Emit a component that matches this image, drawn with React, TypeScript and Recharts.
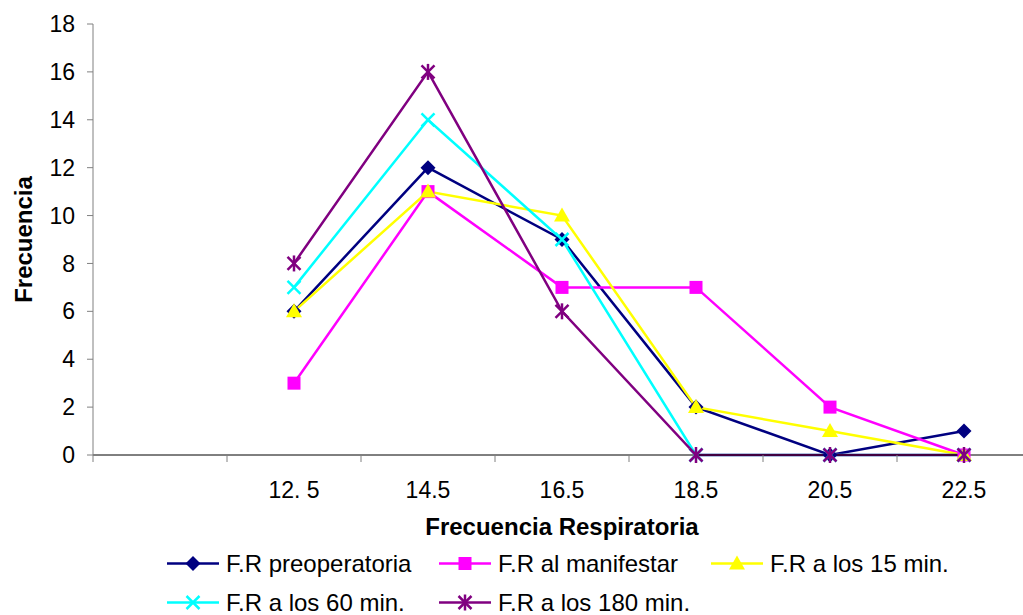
import { LineChart, Line, XAxis, YAxis } from 'recharts';

const categories = ['', '12. 5', '14.5', '16.5', '18.5', '20.5', '22.5'];
const preoperatoria = [null, 6, 12, 9, 2, 0, 1];
const alManifestar = [null, 3, 11, 7, 7, 2, 0];
const a15min = [null, 6, 11, 10, 2, 1, 0];
const a60min = [null, 7, 14, 9, 0, 0, 0];
const a180min = [null, 8, 16, 6, 0, 0, 0];
const yTicks = [0, 2, 4, 6, 8, 10, 12, 14, 16, 18];

type Shape = 'diamond' | 'square' | 'triangle' | 'x' | 'star';

const seriesList: { key: string; name: string; color: string; shape: Shape; values: (number | null)[] }[] = [
  { key: 'pre', name: 'F.R preoperatoria', color: '#000080', shape: 'diamond', values: preoperatoria },
  { key: 'man', name: 'F.R al manifestar', color: '#FF00FF', shape: 'square', values: alManifestar },
  { key: 'm15', name: 'F.R a los 15 min.', color: '#FFFF00', shape: 'triangle', values: a15min },
  { key: 'm60', name: 'F.R a los 60 min.', color: '#00FFFF', shape: 'x', values: a60min },
  { key: 'm180', name: 'F.R a los 180 min.', color: '#800080', shape: 'star', values: a180min },
];

const data = categories.map((cat, i) => {
  const row: Record<string, string | number | null> = { cat };
  seriesList.forEach((s) => {
    row[s.key] = s.values[i];
  });
  return row;
});

const FONT = '"Liberation Sans", Arial, sans-serif';
const CHART_W = 1050;
const CHART_H = 615;
const MARGIN = { top: 24, right: 19, left: 0, bottom: 120 };
const Y_AXIS_W = 93;
const X_AXIS_H = 40;
const PLOT_W = CHART_W - MARGIN.left - MARGIN.right - Y_AXIS_W;
const BAND = PLOT_W / categories.length;
const AXIS_Y = CHART_H - MARGIN.bottom - X_AXIS_H;

function Marker({ shape, color, cx, cy }: { shape: Shape; color: string; cx: number; cy: number }) {
  switch (shape) {
    case 'diamond':
      return <polygon points={`${cx},${cy - 7.5} ${cx + 7.5},${cy} ${cx},${cy + 7.5} ${cx - 7.5},${cy}`} fill={color} />;
    case 'square':
      return <rect x={cx - 6.5} y={cy - 6.5} width={13} height={13} fill={color} />;
    case 'triangle':
      return <polygon points={`${cx},${cy - 8} ${cx + 8},${cy + 6} ${cx - 8},${cy + 6}`} fill={color} />;
    case 'x':
      return (
        <g stroke={color} strokeWidth={2.5}>
          <line x1={cx - 6.5} y1={cy - 6.5} x2={cx + 6.5} y2={cy + 6.5} />
          <line x1={cx - 6.5} y1={cy + 6.5} x2={cx + 6.5} y2={cy - 6.5} />
        </g>
      );
    default:
      return (
        <g stroke={color} strokeWidth={2.5}>
          <line x1={cx - 6.5} y1={cy - 6.5} x2={cx + 6.5} y2={cy + 6.5} />
          <line x1={cx - 6.5} y1={cy + 6.5} x2={cx + 6.5} y2={cy - 6.5} />
          <line x1={cx} y1={cy - 8} x2={cx} y2={cy + 8} />
        </g>
      );
  }
}

const XTick = (props: any) => {
  const { x, payload } = props;
  return (
    <g>
      <line x1={x - BAND / 2} x2={x - BAND / 2} y1={AXIS_Y} y2={AXIS_Y + 7} stroke="#808080" />
      <text x={x} y={AXIS_Y + 43} textAnchor="middle" fontSize={23} fontFamily={FONT} fill="#000">
        {payload.value}
      </text>
    </g>
  );
};

const legendRows = [
  [seriesList[0], seriesList[1], seriesList[2]],
  [seriesList[3], seriesList[4]],
];

// legend drawn as an svg overlay so the plot area is not shrunk by it
function LegendBlock() {
  return (
    <svg width={1023} height={615} style={{ position: 'absolute', left: 0, top: 0, pointerEvents: 'none' }}>
      {legendRows.map((row, r) =>
        row.map((s, c) => {
          const x0 = 167 + c * 272;
          const base = 572 + r * 39;
          const cy = base - 8.5;
          return (
            <g key={s.key}>
              <line x1={x0} y1={cy} x2={x0 + 52} y2={cy} stroke={s.color} strokeWidth={2.5} />
              <Marker shape={s.shape} color={s.color} cx={x0 + 26} cy={cy} />
              <text x={x0 + 59} y={base} fontSize={24} fontFamily={FONT} fill="#000">
                {s.name}
              </text>
            </g>
          );
        })
      )}
    </svg>
  );
}

export default function App() {
  return (
    <div style={{ position: 'fixed', left: 0, top: 0, width: 1023, height: 615, overflow: 'hidden', background: '#fff' }}>
      <LineChart width={CHART_W} height={CHART_H} data={data} margin={MARGIN}>
        <XAxis
          dataKey="cat"
          height={X_AXIS_H}
          padding={{ left: BAND / 2, right: BAND / 2 }}
          stroke="#000"
          tickLine={false}
          tick={<XTick />}
          interval={0}
          label={{
            content: (p: any) => (
              <text
                x={p.viewBox.x + p.viewBox.width / 2}
                y={AXIS_Y + 80}
                textAnchor="middle"
                fontSize={24}
                fontWeight="bold"
                fontFamily={FONT}
                fill="#000"
              >
                Frecuencia Respiratoria
              </text>
            ),
          }}
        />
        <YAxis
          width={Y_AXIS_W}
          domain={[0, 18]}
          ticks={yTicks}
          interval={0}
          stroke="#808080"
          tickSize={6}
          tickMargin={12}
          tick={{ fontSize: 23, fill: '#000', fontFamily: FONT }}
          label={{
            content: (p: any) => {
              const cy = p.viewBox.y + p.viewBox.height / 2;
              return (
                <text
                  x={32}
                  y={cy}
                  transform={`rotate(-90, 32, ${cy})`}
                  textAnchor="middle"
                  fontSize={24}
                  fontWeight="bold"
                  fontFamily={FONT}
                  fill="#000"
                >
                  Frecuencia
                </text>
              );
            },
          }}
        />
        {seriesList.map((s) => (
          <Line
            key={s.key}
            dataKey={s.key}
            name={s.name}
            type="linear"
            stroke={s.color}
            strokeWidth={2.5}
            isAnimationActive={false}
            activeDot={false}
            dot={(p: any) =>
              p.value == null || p.cx == null ? (
                <g key={`${s.key}-${p.index}`} />
              ) : (
                <g key={`${s.key}-${p.index}`}>
                  <Marker shape={s.shape} color={s.color} cx={p.cx} cy={p.cy} />
                </g>
              )
            }
          />
        ))}
      </LineChart>
      <LegendBlock />
    </div>
  );
}
